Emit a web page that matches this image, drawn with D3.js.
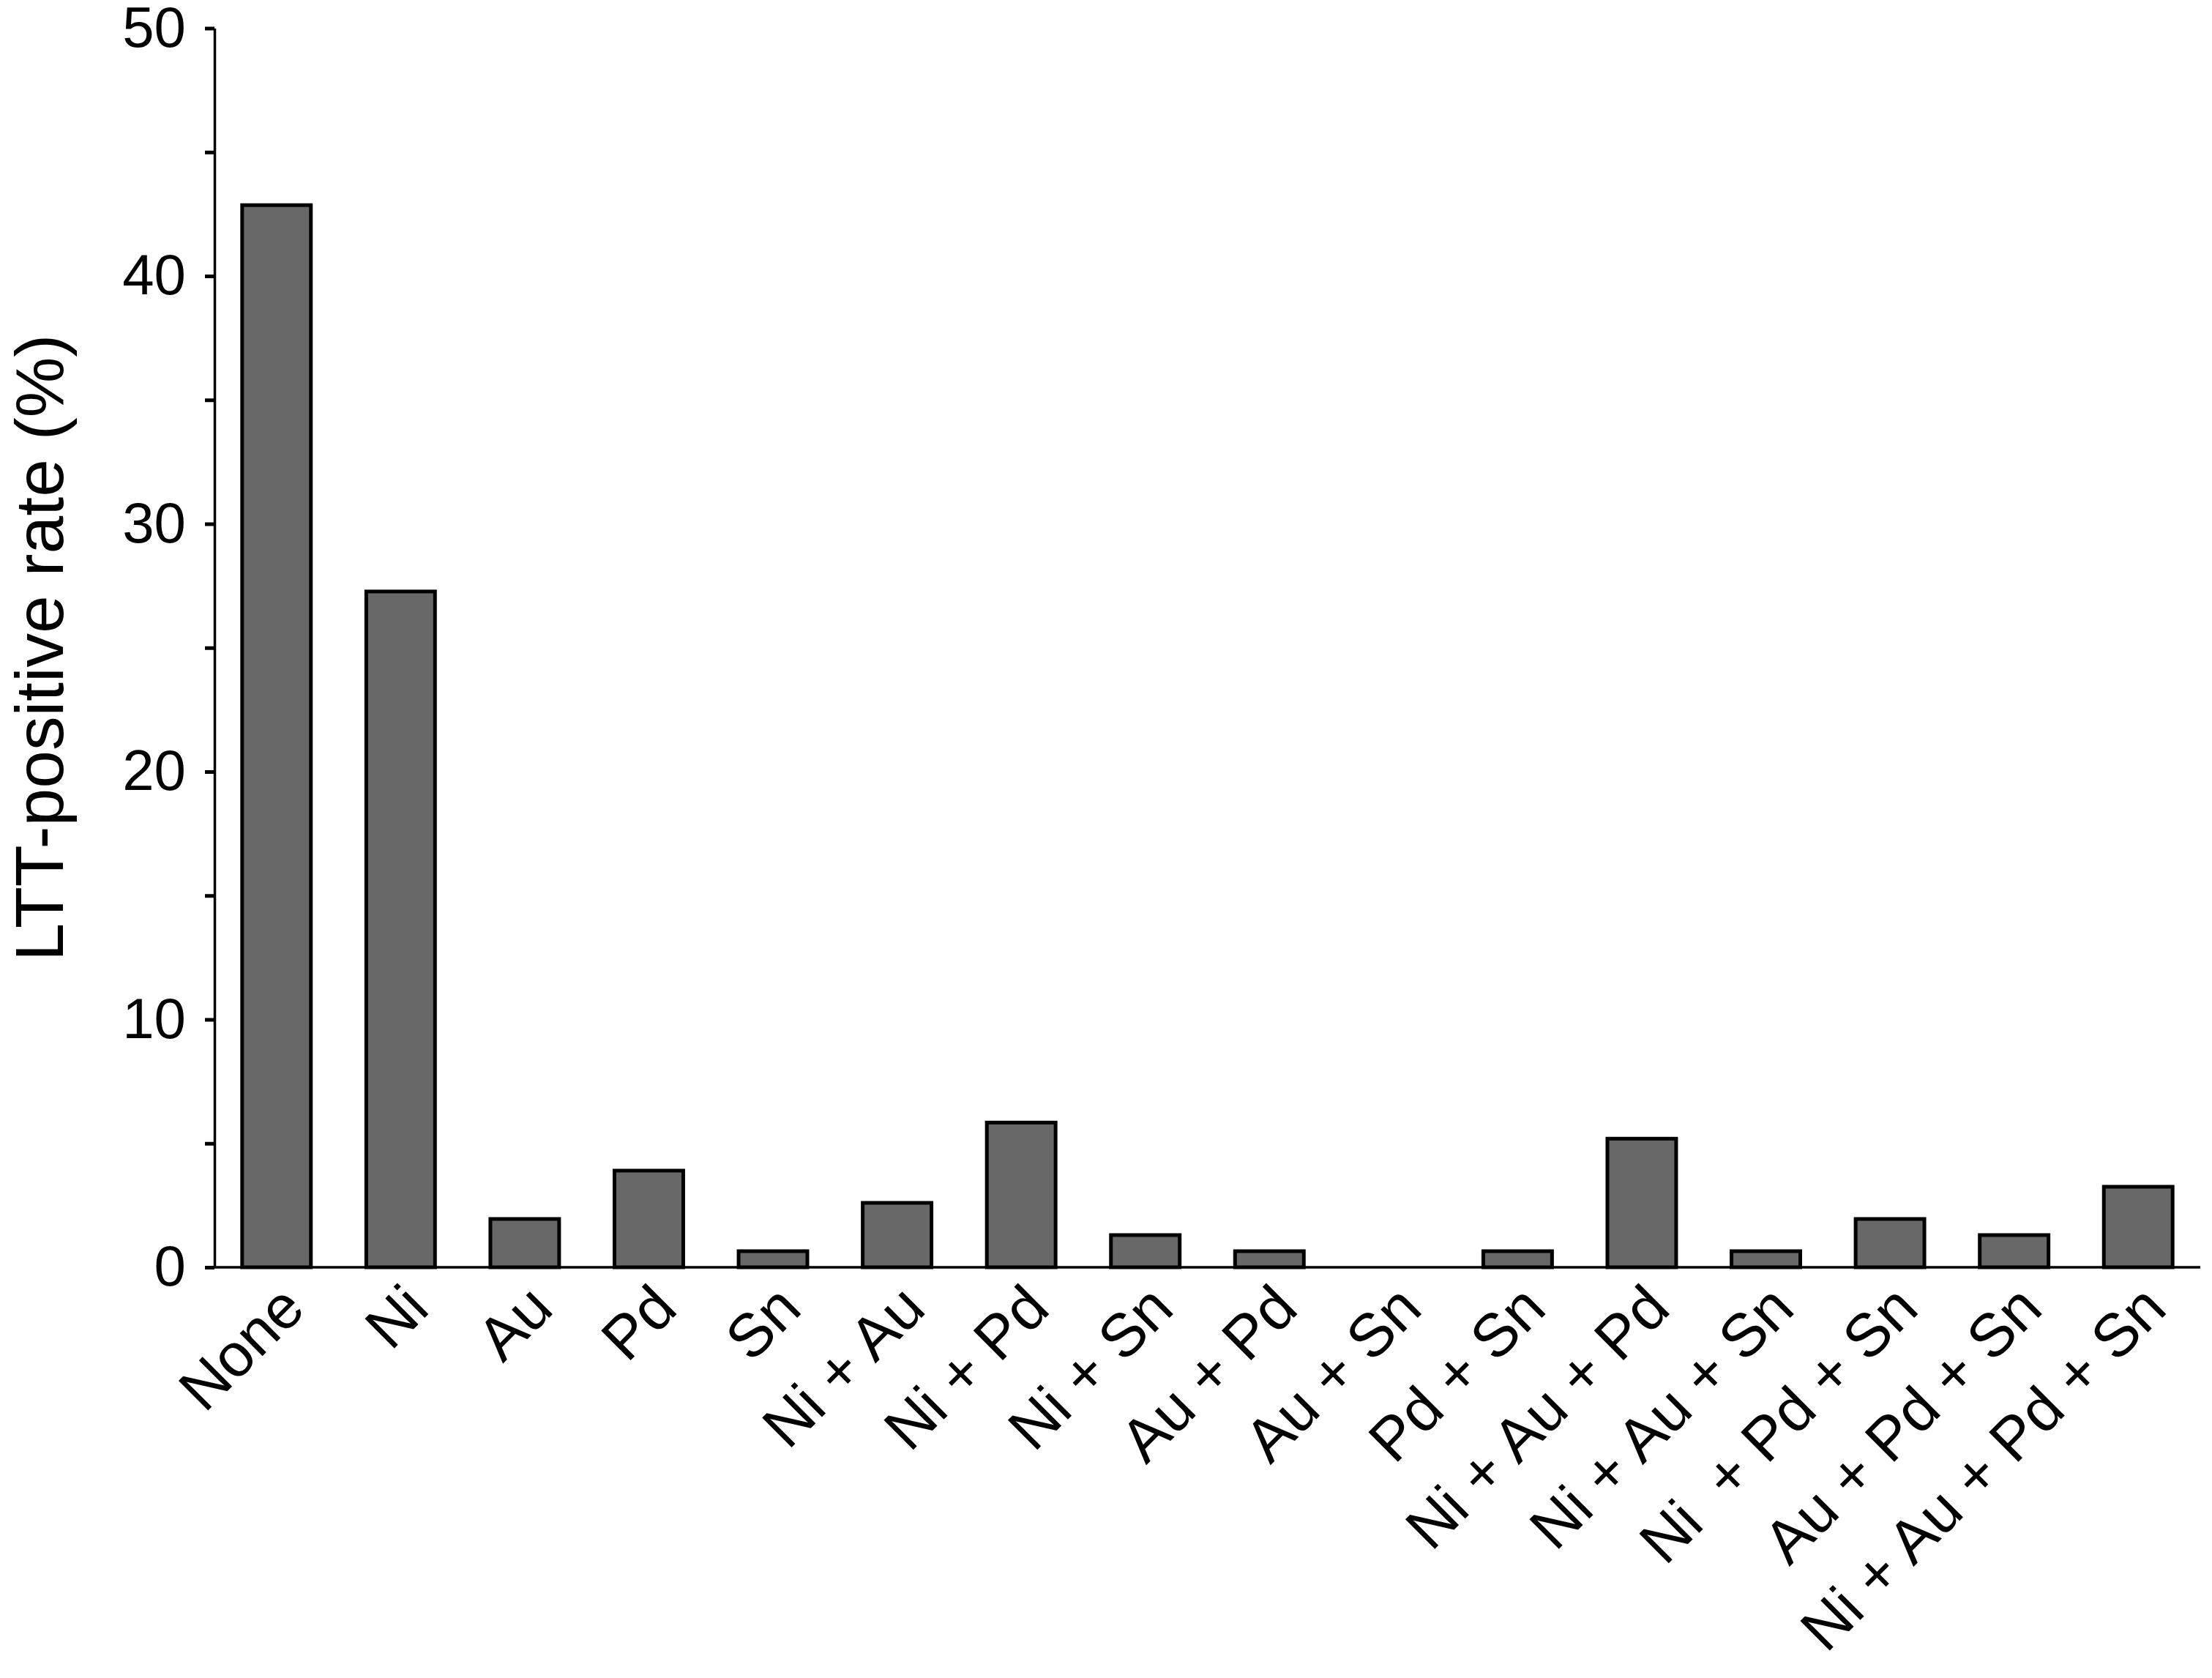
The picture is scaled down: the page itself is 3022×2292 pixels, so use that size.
<!DOCTYPE html>
<html>
<head>
<meta charset="utf-8">
<script src="https://cdn.jsdelivr.net/npm/d3@7"></script>
<style>
  body { margin: 0; background: #fff; }
  svg { display: block; font-family: "Liberation Sans", Arial, sans-serif; }
</style>
</head>
<body>
<div id="chart"></div>
<script>
var categories = ["None", "Ni", "Au", "Pd", "Sn", "Ni + Au", "Ni + Pd", "Ni + Sn", "Au + Pd", "Au + Sn",
    "Pd + Sn", "Ni + Au + Pd", "Ni + Au + Sn", "Ni  + Pd + Sn", "Au + Pd + Sn", "Ni + Au + Pd + Sn"];
var rates = [42.86, 27.27, 1.95, 3.90, 0.65, 2.60, 5.84, 1.30, 0.65, 0, 0.65, 5.19, 0.65, 1.95, 1.30, 3.25];
var yTicks = [0, 5, 10, 15, 20, 25, 30, 35, 40, 45, 50];
var yLabel = "LTT-positive rate (%)";

var width = 3022, height = 2292;
var plotLeft = 293, plotRight = 3006, plotTop = 38.5, plotBottom = 1731;

var svg = d3.select("#chart").append("svg")
    .attr("width", width)
    .attr("height", height);

var x = d3.scaleBand()
    .domain(categories)
    .range([plotLeft, plotRight])
    .paddingInner(0.446)
    .paddingOuter(0.223);

var y = d3.scaleLinear()
    .domain([0, 50])
    .range([plotBottom, plotTop]);

// bars (no outline for the empty Au + Sn group)
svg.append("g")
    .selectAll("rect")
    .data(rates)
    .enter()
    .append("rect")
    .attr("x", (d, i) => x(categories[i]))
    .attr("y", d => y(d))
    .attr("width", x.bandwidth())
    .attr("height", d => y(0) - y(d))
    .attr("fill", "#686868")
    .attr("stroke", d => d > 0 ? "#000" : "none")
    .attr("stroke-width", 5);

// y axis, minor ticks every 5 without labels
var yAxis = svg.append("g")
    .attr("transform", "translate(" + plotLeft + ",0)")
    .call(d3.axisLeft(y)
        .tickValues(yTicks)
        .tickSize(13)
        .tickSizeOuter(0)
        .tickPadding(26)
        .tickFormat(d => d % 10 === 0 ? d : ""));
yAxis.select(".domain").attr("stroke-width", 3.5);
yAxis.selectAll(".tick line").attr("stroke-width", 5);
yAxis.selectAll(".tick text")
    .attr("font-size", 78)
    .attr("fill", "#000")
    .attr("font-family", "Liberation Sans, Arial, sans-serif");

// x axis
var xAxis = svg.append("g")
    .attr("transform", "translate(0," + plotBottom + ")")
    .call(d3.axisBottom(x).tickSize(0).tickSizeOuter(0).tickFormat(""));
xAxis.select(".domain")
    .attr("d", "M" + plotLeft + ",0H" + plotRight)
    .attr("stroke-width", 3.5);

// category labels
svg.append("g")
    .selectAll("text")
    .data(categories)
    .enter()
    .append("text")
    .attr("transform", d => "translate(" + (x(d) + x.bandwidth() / 2 + 42) + "," + (plotBottom + 60) + ") rotate(-45)")
    .attr("text-anchor", "end")
    .attr("font-size", 83)
    .style("white-space", "pre")
    .text(d => d);

// y label
svg.append("text")
    .attr("transform", "translate(" + 86 + "," + ((plotTop + plotBottom) / 2) + ") rotate(-90)")
    .attr("text-anchor", "middle")
    .attr("font-size", 93)
    .text(yLabel);
</script>
</body>
</html>
